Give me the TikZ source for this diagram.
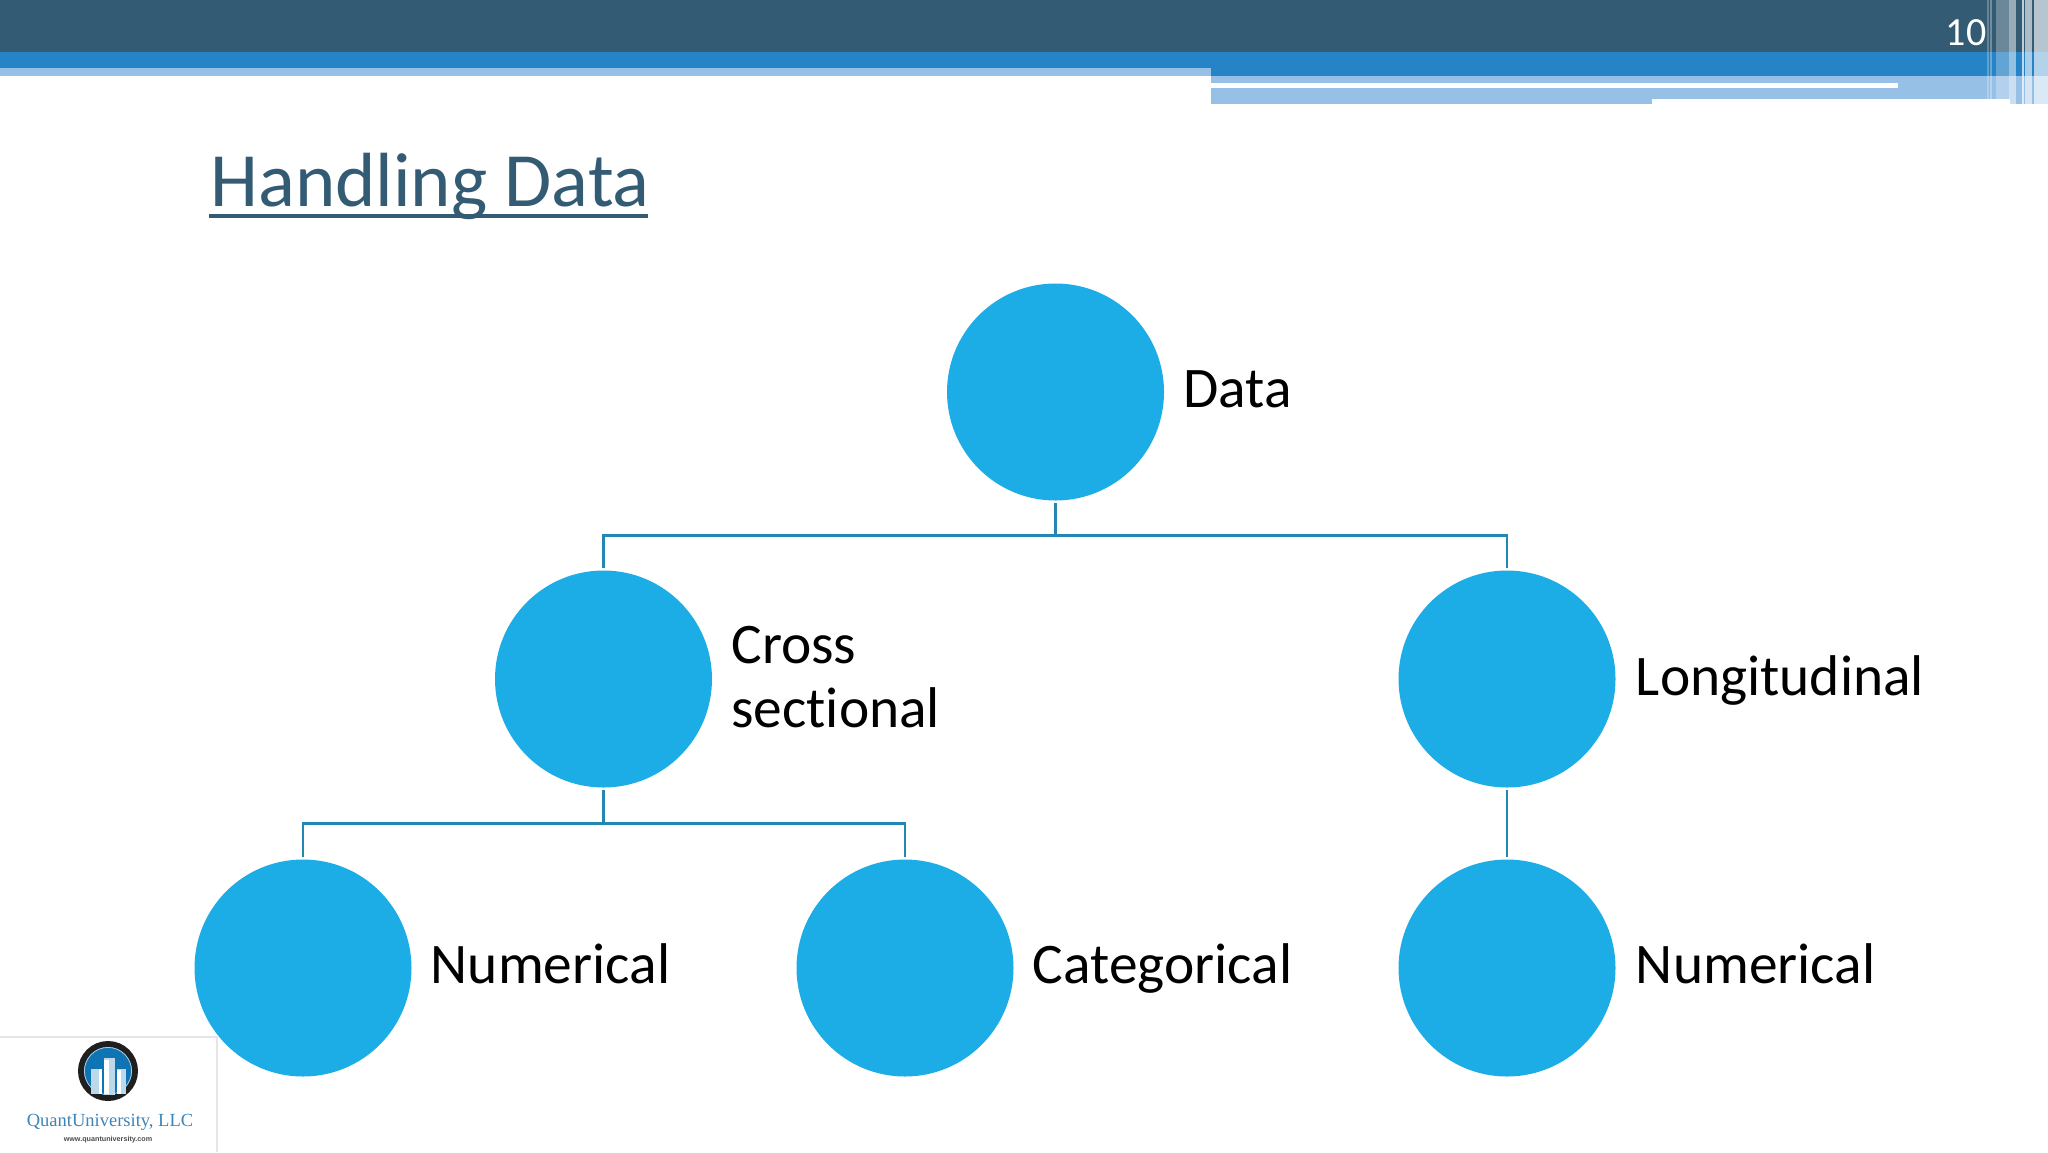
\documentclass[tikz,border=0pt]{standalone}
\usepackage{fontspec}
\setmainfont[Ligatures=NoCommon]{Carlito}
\newfontfamily\logofont{Liberation Serif}
\newfontfamily\urlfont{Liberation Sans}
\usetikzlibrary{positioning}
\definecolor{barDark}{HTML}{335B74}
\definecolor{barBlue}{HTML}{2683C6}
\definecolor{barLight}{HTML}{96C0E6}
\definecolor{dotBlue}{HTML}{1CADE7}
\definecolor{lineBlue}{HTML}{2287B2}
\definecolor{logoBlue}{HTML}{0F74B4}
\definecolor{logoText}{HTML}{3C85B5}
\tikzset{
  dot/.style={circle, fill=dotBlue, minimum size=108.5pt, inner sep=0pt},
  lbl/.style={anchor=base west, inner sep=0pt, font=\fontsize{28.7}{32}\selectfont, align=left},
  link/.style={draw=lineBlue, line width=1.05pt},
  linkto/.style={link, shorten >=1.2pt},
  linkfrom/.style={link, shorten <=1.2pt}
}
\begin{document}
\begin{tikzpicture}[x=0.5pt, y=-0.5pt]
\useasboundingbox (0,0) rectangle (2048,1152);

% header bars
\fill[barDark] (0,0) rectangle (2048,52);
\fill[barBlue] (0,52) rectangle (2048,68);
\fill[barBlue] (1211,68) rectangle (2048,76);
\fill[barLight] (0,68) rectangle (1211,76);
\fill[barLight] (1211,76) rectangle (2048,104);
\fill[white] (1211,83) rectangle (1898,88);
\fill[white] (1652,99) rectangle (2010,104);
\foreach \x/\w/\o in {1987/1.5/0.25, 1990/2/0.3, 1996/13/0.28, 2009/7/0.5, 2022/2/0.7, 2025/7/0.6, 2034/14/0.65} {
  \fill[white, opacity=\o] (\x,0) rectangle ++(\w,104);
}
\node[text=white, inner sep=0pt, font=\fontsize{20}{24}\selectfont] (pageno) at (1966,33) {10};

% title
\node[anchor=base west, inner sep=0pt, text=barDark, font=\fontsize{38.4}{42}\selectfont] (title) at (210,206) {Handling Data};
\draw[barDark, line width=2pt] (title.base west) ++(-1,9.5) -- ++(439,0);

% tree
\node[dot] (data) at (1055.5,392) {};
\node[dot] (cross) at (603.5,679) {};
\node[dot] (long) at (1507,679) {};
\node[dot] (numA) at (303,968) {};
\node[dot] (cat) at (905,968) {};
\node[dot] (numB) at (1507,968) {};

\coordinate (busA) at (1055.5,535.5);
\coordinate (busB) at (603.5,823.5);

\draw[linkfrom] (data) -- (busA);
\draw[linkto] (busA) -| (cross);
\draw[linkto] (busA) -| (long);
\draw[linkfrom] (cross) -- (busB);
\draw[linkto] (busB) -| (numA);
\draw[linkto] (busB) -| (cat);
\draw[linkfrom, linkto] (long) -- (numB);

\node[lbl] (dataL) at (1183,407) {Data};
\node[lbl] (crossL) at (731,727) {Cross\\sectional};
\node[lbl] (longL) at (1635.5,695) {Longitudinal};
\node[lbl] (numAL) at (430.5,983) {Numerical};
\node[lbl] (catL) at (1032.5,983) {Categorical};
\node[lbl] (numBL) at (1635.5,983) {Numerical};

% logo
\draw[black!10, line width=0.6pt] (0,1037) -- (217,1037) -- (217,1152);
\node[circle, fill=logoBlue, draw=black!88, line width=3pt, minimum size=27pt, inner sep=0pt] (logo) at (108,1071) {};
\node[circle, draw=white!65!logoBlue, line width=0.4pt, minimum size=23.6pt, inner sep=0pt] (logoR) at (logo) {};
\fill[white!72!logoBlue] (91,1069) rectangle (102,1094);
\fill[white!72!logoBlue] (104,1058) rectangle (115,1095);
\fill[white!72!logoBlue] (117,1069) rectangle (126,1094);
\foreach \x/\y/\w in {99/1069/3, 104/1060/5, 117/1070/4} {
  \fill[white] (\x,\y) rectangle ++(\w,1094-\y);
}
\node[inner sep=0pt, text=logoText, font=\logofont\fontsize{9.25}{11}\selectfont] (logoT) at (110,1122) {QuantUniversity, LLC};
\node[inner sep=0pt, text=black!70, font=\urlfont\bfseries\fontsize{3.6}{4}\selectfont] (logoU) at (108,1140) {www.quantuniversity.com};
\end{tikzpicture}
\end{document}
